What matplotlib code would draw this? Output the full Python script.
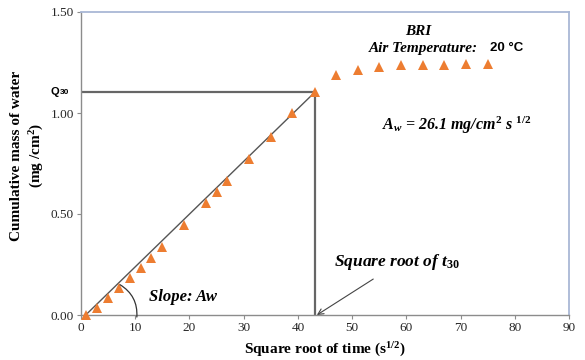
import matplotlib
matplotlib.use("Agg")
import matplotlib.pyplot as plt

# Measured absorption data: square root of time (s^1/2) vs cumulative mass of water (mg/cm^2)
sqrt_time = [1, 3, 5, 7, 9, 11, 13, 15, 19, 23, 25, 27, 31, 35, 39, 43.2,
             47, 51, 55, 59, 63, 67, 71, 75]
mass = [0.0, 0.036, 0.083, 0.132, 0.183, 0.234, 0.284, 0.335, 0.446, 0.554,
        0.610, 0.665, 0.772, 0.881, 1.00, 1.105,
        1.188, 1.211, 1.230, 1.236, 1.238, 1.239, 1.241, 1.245]

# Capillary coefficient and the point at t30
aw = 26.1            # mg/cm^2 s^1/2  (slope 0.0261 in plotted units)
sqrt_t30 = 43.2
q30 = 1.105

x_ticks = [0, 10, 20, 30, 40, 50, 60, 70, 80, 90]
y_ticks = [0.0, 0.5, 1.0, 1.5]
y_tick_labels = ["0.00", "0.50", "1.00", "1.50"]

serif = "Liberation Serif"
plt.rcParams["font.family"] = serif
plt.rcParams["mathtext.fontset"] = "custom"
plt.rcParams["mathtext.rm"] = "Liberation Serif:bold"
plt.rcParams["mathtext.bf"] = "Liberation Serif:bold"
plt.rcParams["mathtext.it"] = "Liberation Serif:italic:bold"

fig = plt.figure(figsize=(5.85, 3.6), dpi=100)
ax = fig.add_axes([81 / 585, 45 / 360, 488 / 585, 303 / 360])

ax.set_xlim(0, 90)
ax.set_ylim(0, 1.5)

# Linear fit from the origin of absorption up to Q30
x0 = sqrt_t30 - q30 / (aw / 1000.0)
ax.plot([x0, sqrt_t30], [0, q30], color="#555555", lw=1.0, zorder=2)

# Q30 / t30 guide lines
ax.plot([0, sqrt_t30], [q30, q30], color="#666666", lw=1.6, zorder=2)
ax.plot([sqrt_t30, sqrt_t30], [0, q30], color="#666666", lw=1.6, zorder=2)

ax.plot(sqrt_time, mass, linestyle="none", marker="^", markersize=6.5,
        color="#ED7D31", markeredgewidth=0, zorder=3, clip_on=False)

# Spines: gray axes, light blue plot-area border
for side in ("left", "bottom"):
    ax.spines[side].set_color("#8c8c8c")
    ax.spines[side].set_linewidth(1.0)
for side in ("top", "right"):
    ax.spines[side].set_color("#a9b8d6")
    ax.spines[side].set_linewidth(1.3)

ax.set_xticks(x_ticks)
ax.set_yticks(y_ticks)
ax.set_yticklabels(y_tick_labels)
ax.tick_params(direction="out", length=3, width=0.8, color="#8c8c8c",
               labelsize=9.5, labelcolor="#262626", pad=2)

ax.set_xlabel("Square root of time (s$^{1/2}$)", fontsize=11,
              fontweight="bold", labelpad=5)
ax.set_ylabel("Cumulative mass of water\n(mg /cm$^{2}$)", fontsize=11,
              fontweight="bold", linespacing=1.35)
ax.yaxis.set_label_coords(-0.072, 0.525)

# Q30 label on the y axis
ax.annotate("Q", xy=(0, q30), xycoords=("axes fraction", "data"),
            xytext=(-16, 0), textcoords="offset points", ha="right", va="center",
            fontsize=8, fontweight="bold", family="Liberation Sans", annotation_clip=False)
ax.annotate("30", xy=(0, q30), xycoords=("axes fraction", "data"),
            xytext=(-15.5, -0.5), textcoords="offset points", ha="left", va="center",
            fontsize=6, fontweight="bold", family="Liberation Sans", annotation_clip=False)

# Header texts
ax.text(62.2, 1.405, "BRI", fontsize=11, fontstyle="italic", fontweight="bold",
        ha="center", va="center")
ax.text(53.0, 1.32, "Air Temperature:", fontsize=11, fontstyle="italic",
        fontweight="bold", ha="left", va="center")
ax.text(75.5, 1.322, "20 \u00b0C", fontsize=9.5, fontweight="bold",
        family="Liberation Sans", ha="left", va="center")

ax.text(55.6, 0.94,
        "$A_w$ = 26.1 mg/cm$^{2}$ s $^{\\mathit{1/2}}$",
        fontsize=11.5, fontstyle="italic", fontweight="bold", ha="left", va="center")

# Slope annotation with angle arc
ax.text(12.6, 0.09, "Slope: Aw", fontsize=12, fontstyle="italic",
        fontweight="bold", ha="left", va="center")
ax.annotate("", xy=(10.3, -0.01), xytext=(7.2, 0.15),
            arrowprops=dict(arrowstyle="-", color="#333333", lw=0.9,
                            connectionstyle="arc3,rad=-0.3",
                            shrinkA=0, shrinkB=0),
            annotation_clip=False)

# Square root of t30 annotation
ax.text(46.7, 0.262, "Square root of t$_{\\mathit{30}}$", fontsize=12.5,
        fontstyle="italic", fontweight="bold", ha="left", va="center")
ax.annotate("", xy=(sqrt_t30 + 0.3, 0.0), xytext=(53.9, 0.178),
            arrowprops=dict(arrowstyle="->", color="#444444", lw=0.8,
                            shrinkA=0, shrinkB=0))

fig.savefig("out.png", dpi=100)
